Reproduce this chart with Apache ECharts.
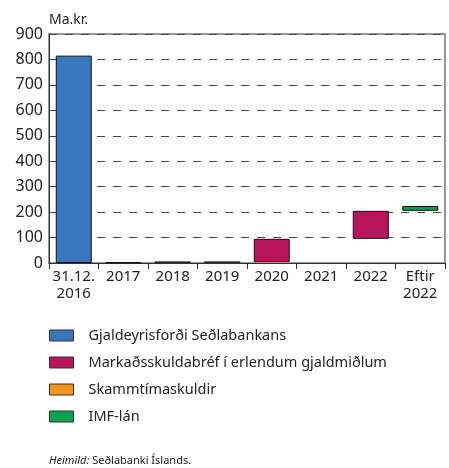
<!DOCTYPE html>
<html>
<head>
<meta charset="utf-8">
<script src="https://cdn.jsdelivr.net/npm/echarts@6/dist/echarts.min.js"></script>
<style>
  body { margin: 0; background: #fff; }
  #chart { width: 449px; height: 468px; }
</style>
</head>
<body>
<div id="chart"></div>
<script>
// flokkar og gildi (Ma.kr.)
var categories = ["31.12.\n2016", "2017", "2018", "2019", "2020", "2021", "2022", "Eftir\n2022"];
var baseVals = [0, 0, 3, 3, 4, "-", 95, 205];
var gjaldeyrisforði = [815, "-", "-", "-", "-", "-", "-", "-"];
var markadsskuldabref = ["-", 3, 0.6, 0.6, 91, "-", 110, "-"];
var skammtimaskuldir = ["-", "-", "-", "-", "-", "-", "-", "-"];
var imfLan = ["-", "-", "-", "-", "-", "-", "-", 19];
var yTicks = { min: 0, max: 900, interval: 100 };

var names = [
  "Gjaldeyrisforði Seðlabankans",
  "Markaðsskuldabréf í erlendum gjaldmiðlum",
  "Skammtímaskuldir",
  "IMF-lán"
];
var colors = ["#3a76bb", "#b8145c", "#f7941d", "#0aa14f"];
var seriesData = [gjaldeyrisforði, markadsskuldabref, skammtimaskuldir, imfLan];

var font = "Noto Sans";
var myChart = echarts.init(document.getElementById("chart"));

var series = [
  {
    name: "base",
    type: "bar",
    stack: "w",
    barWidth: 36,
    silent: true,
    itemStyle: { color: "transparent" },
    data: baseVals
  }
];
names.forEach(function (n, i) {
  series.push({
    name: n,
    type: "bar",
    stack: "w",
    barWidth: 36,
    itemStyle: { color: colors[i], borderColor: "#111", borderWidth: 1 },
    data: seriesData[i]
  });
});

var option = {
  animation: false,
  textStyle: { fontFamily: font },
  grid: {
    left: 49, right: 4, top: 34, bottom: 205,
    show: true, borderColor: "#777", borderWidth: 1.5, backgroundColor: "transparent"
  },
  legend: {
    data: names,
    orient: "vertical",
    left: 49,
    top: 328,
    padding: 0,
    itemWidth: 24,
    itemHeight: 11,
    itemGap: 12,
    icon: "rect",
    selectedMode: false,
    itemStyle: { borderColor: "#333", borderWidth: 1 },
    textStyle: { fontFamily: font, fontSize: 14.5, color: "#222", padding: [0, 0, 0, 10] }
  },
  xAxis: {
    type: "category",
    data: categories,
    axisLine: { lineStyle: { color: "#333", width: 1 } },
    axisTick: { show: true, length: 6, interval: 0, lineStyle: { color: "#333" } },
    axisLabel: { fontFamily: font, fontSize: 15, color: "#222", margin: 5, lineHeight: 17, interval: 0 }
  },
  yAxis: {
    type: "value",
    min: yTicks.min,
    max: yTicks.max,
    interval: yTicks.interval,
    name: "Ma.kr.",
    nameLocation: "end",
    nameGap: 7,
    nameTextStyle: { fontFamily: font, fontSize: 14, color: "#222", align: "left" },
    axisLine: { show: true, lineStyle: { color: "#333", width: 1 } },
    axisTick: { show: false },
    axisLabel: { fontFamily: font, fontSize: 16, color: "#222", margin: 6 },
    splitLine: { show: true, lineStyle: { color: "#444", type: [8, 8], width: 1 } }
  },
  graphic: [
    {
      type: "text",
      left: 49,
      top: 455,
      style: {
        text: "{i|Heimild:} Seðlabanki Íslands.",
        fontFamily: font,
        fontSize: 11,
        fill: "#222",
        rich: { i: { fontStyle: "italic", fontFamily: font, fontSize: 11, fill: "#222" } }
      }
    }
  ],
  series: series
};

myChart.setOption(option);
</script>
</body>
</html>
